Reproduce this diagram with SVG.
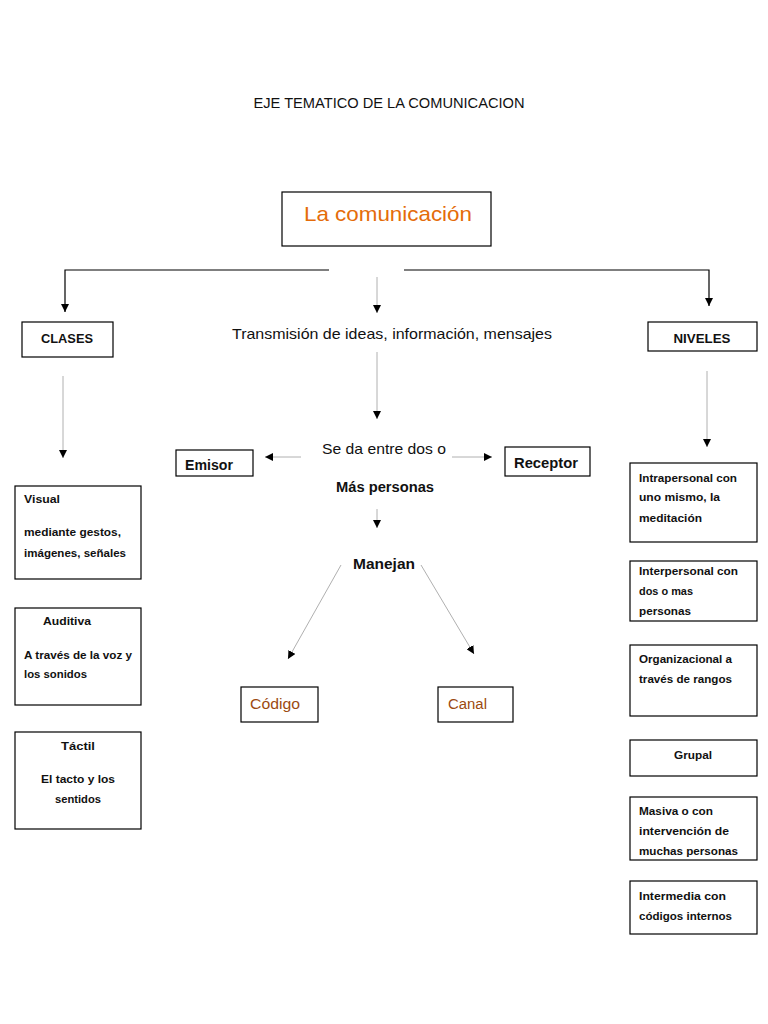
<svg xmlns="http://www.w3.org/2000/svg" width="768" height="1024" viewBox="0 0 768 1024">
<style>
.box{fill:#fff;stroke:#000;stroke-width:1.2}
.t{font-family:"Liberation Sans",Arial,sans-serif;fill:#111}
.b{font-weight:bold}
.s{font-size:11.5px;font-weight:bold}
.dk{stroke:#000;stroke-width:1.2;fill:none}
.lt{stroke:#b0b0b0;stroke-width:1;fill:none}
</style>
<defs>
<marker id="ah" viewBox="0 0 10 10" refX="10" refY="5" markerWidth="8" markerHeight="8" markerUnits="userSpaceOnUse" orient="auto">
<path d="M0,0 L10,5 L0,10 z" fill="#000"/>
</marker>
</defs>
<rect width="768" height="1024" fill="#fff"/>
<text class="t" x="389" y="108" font-size="14" text-anchor="middle" textLength="271" lengthAdjust="spacingAndGlyphs">EJE TEMATICO DE LA COMUNICACION</text>

<g id="connectors">
<polyline class="dk" points="329,270 65,270 65,312" marker-end="url(#ah)"/>
<polyline class="dk" points="404,270 709,270 709,306" marker-end="url(#ah)"/>
<line class="lt" x1="377" y1="277" x2="377" y2="313" marker-end="url(#ah)"/>
<line class="lt" x1="63" y1="376" x2="63" y2="458" marker-end="url(#ah)"/>
<line class="lt" x1="377" y1="352" x2="377" y2="419" marker-end="url(#ah)"/>
<line class="lt" x1="707" y1="371" x2="707" y2="447" marker-end="url(#ah)"/>
<line class="lt" x1="301" y1="457" x2="265" y2="457" marker-end="url(#ah)"/>
<line class="lt" x1="452" y1="457" x2="492" y2="457" marker-end="url(#ah)"/>
<line class="lt" x1="377" y1="509" x2="377" y2="528" marker-end="url(#ah)"/>
<line class="lt" x1="341" y1="565" x2="288" y2="659" marker-end="url(#ah)"/>
<line class="lt" x1="421" y1="565" x2="474" y2="654" marker-end="url(#ah)"/>
</g>

<g id="comunicacion">
<rect class="box" x="282" y="192" width="209" height="54"/>
<text x="304" y="221" font-family="Liberation Sans,Arial,sans-serif" font-size="21" fill="#E46C0A" textLength="168" lengthAdjust="spacingAndGlyphs">La comunicación</text>
</g>

<g id="clases">
<rect class="box" x="22" y="322" width="91" height="35"/>
<text class="t b" x="67" y="343" font-size="13" text-anchor="middle" textLength="52" lengthAdjust="spacingAndGlyphs">CLASES</text>
</g>

<g id="transmision">
<text class="t" x="392" y="339" font-size="15" text-anchor="middle" textLength="320" lengthAdjust="spacingAndGlyphs">Transmisión de ideas, información, mensajes</text>
</g>

<g id="niveles">
<rect class="box" x="648" y="322" width="109" height="29"/>
<text class="t b" x="702" y="343" font-size="13" text-anchor="middle" textLength="57" lengthAdjust="spacingAndGlyphs">NIVELES</text>
</g>

<g id="emisor">
<rect class="box" x="176" y="450" width="77" height="26"/>
<text class="t b" x="185" y="470" font-size="14" textLength="48" lengthAdjust="spacingAndGlyphs">Emisor</text>
</g>

<g id="seda">
<text class="t" x="384" y="454" font-size="15" text-anchor="middle" textLength="124" lengthAdjust="spacingAndGlyphs">Se da entre dos o</text>
<text class="t b" x="385" y="492" font-size="14" text-anchor="middle" textLength="98" lengthAdjust="spacingAndGlyphs">Más personas</text>
</g>

<g id="receptor">
<rect class="box" x="505" y="447" width="85" height="29"/>
<text class="t b" x="514" y="468" font-size="14" textLength="64" lengthAdjust="spacingAndGlyphs">Receptor</text>
</g>

<g id="manejan">
<text class="t b" x="384" y="569" font-size="14" text-anchor="middle" textLength="62" lengthAdjust="spacingAndGlyphs">Manejan</text>
</g>

<g id="codigo">
<rect class="box" x="241" y="687" width="77" height="35"/>
<text x="250" y="709" font-family="Liberation Sans,Arial,sans-serif" font-size="14" fill="#9C4A10" textLength="50" lengthAdjust="spacingAndGlyphs">Código</text>
</g>

<g id="canal">
<rect class="box" x="438" y="687" width="75" height="35"/>
<text x="448" y="709" font-family="Liberation Sans,Arial,sans-serif" font-size="14" fill="#9C4A10" textLength="39" lengthAdjust="spacingAndGlyphs">Canal</text>
</g>

<g id="visual">
<rect class="box" x="15" y="486" width="126" height="93"/>
<text class="t s" x="24" y="503" textLength="36" lengthAdjust="spacingAndGlyphs">Visual</text>
<text class="t s" x="24" y="536" textLength="97" lengthAdjust="spacingAndGlyphs">mediante gestos,</text>
<text class="t s" x="24" y="557" textLength="102" lengthAdjust="spacingAndGlyphs">imágenes, señales</text>
</g>

<g id="auditiva">
<rect class="box" x="15" y="608" width="126" height="97"/>
<text class="t s" x="43" y="625" textLength="48" lengthAdjust="spacingAndGlyphs">Auditiva</text>
<text class="t s" x="24" y="659" textLength="108" lengthAdjust="spacingAndGlyphs">A través de la voz y</text>
<text class="t s" x="24" y="678" textLength="63" lengthAdjust="spacingAndGlyphs">los sonidos</text>
</g>

<g id="tactil">
<rect class="box" x="15" y="732" width="126" height="97"/>
<text class="t s" x="78" y="750" text-anchor="middle" textLength="34" lengthAdjust="spacingAndGlyphs">Táctil</text>
<text class="t s" x="78" y="783" text-anchor="middle" textLength="74" lengthAdjust="spacingAndGlyphs">El tacto y los</text>
<text class="t s" x="78" y="803" text-anchor="middle" textLength="46" lengthAdjust="spacingAndGlyphs">sentidos</text>
</g>

<g id="intrapersonal">
<rect class="box" x="630" y="463" width="127" height="79"/>
<text class="t s" x="639" y="482" textLength="98" lengthAdjust="spacingAndGlyphs">Intrapersonal con</text>
<text class="t s" x="639" y="501" textLength="81" lengthAdjust="spacingAndGlyphs">uno mismo, la</text>
<text class="t s" x="639" y="522" textLength="63" lengthAdjust="spacingAndGlyphs">meditación</text>
</g>

<g id="interpersonal">
<rect class="box" x="630" y="561" width="127" height="60"/>
<text class="t s" x="639" y="575" textLength="99" lengthAdjust="spacingAndGlyphs">Interpersonal con</text>
<text class="t s" x="639" y="595" textLength="54" lengthAdjust="spacingAndGlyphs">dos o mas</text>
<text class="t s" x="639" y="615" textLength="52" lengthAdjust="spacingAndGlyphs">personas</text>
</g>

<g id="organizacional">
<rect class="box" x="630" y="645" width="127" height="71"/>
<text class="t s" x="639" y="663" textLength="93" lengthAdjust="spacingAndGlyphs">Organizacional a</text>
<text class="t s" x="639" y="683" textLength="93" lengthAdjust="spacingAndGlyphs">través de rangos</text>
</g>

<g id="grupal">
<rect class="box" x="630" y="740" width="127" height="36"/>
<text class="t s" x="693" y="759" text-anchor="middle" textLength="38" lengthAdjust="spacingAndGlyphs">Grupal</text>
</g>

<g id="masiva">
<rect class="box" x="630" y="797" width="127" height="63"/>
<text class="t s" x="639" y="815" textLength="74" lengthAdjust="spacingAndGlyphs">Masiva o con</text>
<text class="t s" x="639" y="835" textLength="90" lengthAdjust="spacingAndGlyphs">intervención de</text>
<text class="t s" x="639" y="855" textLength="99" lengthAdjust="spacingAndGlyphs">muchas personas</text>
</g>

<g id="intermedia">
<rect class="box" x="630" y="881" width="127" height="53"/>
<text class="t s" x="639" y="900" textLength="87" lengthAdjust="spacingAndGlyphs">Intermedia con</text>
<text class="t s" x="639" y="920" textLength="93" lengthAdjust="spacingAndGlyphs">códigos internos</text>
</g>
</svg>
